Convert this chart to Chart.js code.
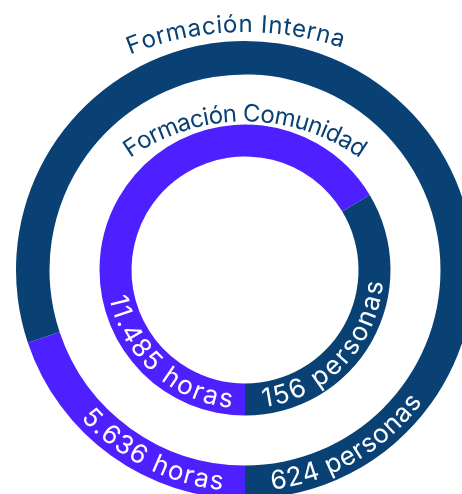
<!DOCTYPE html>
<html><head><meta charset="utf-8">
<script src="https://cdn.jsdelivr.net/npm/chart.js@4.4.1/dist/chart.umd.min.js"></script>
<style>
html,body{margin:0;padding:0;background:#fff;overflow:hidden;width:462px;height:494px;position:relative}
#c{position:absolute;left:-25px;top:-10px}
</style></head>
<body><canvas id="c" width="540" height="560"></canvas>
<script>
// ---- data ----
const ringTitles = ['Formación Interna', 'Formación Comunidad'];
const segmentNames = ['Horas', 'Personas'];
const outerValues = [71.5, 288.5];
const innerValues = [239, 121];
const outerLabels = ['5.636 horas', '624 personas'];
const innerLabels = ['11.485 horas', '156 personas'];
const segmentColors = ['#4F20FF', '#0A4174'];
const titleColor = '#0A4174';

const FONT = 'Inter, "Noto Sans", sans-serif';

function widths(ctx, text){ return Array.from(text).map(ch => ctx.measureText(ch).width); }

// text along an arc, reading clockwise, tops pointing outward
function drawTopArcText(ctx, text, cx, cy, r, centerAngle, spanRad){
  const chars = Array.from(text);
  const w = widths(ctx, text);
  const sum = w.reduce((a,b)=>a+b,0);
  const sp = (spanRad*r - sum)/(chars.length-1);
  const total = sum + sp*(chars.length-1);
  let a = centerAngle - total/r/2;
  chars.forEach((ch,i)=>{
    const mid = a + w[i]/2/r;
    ctx.save();
    ctx.translate(cx + r*Math.cos(mid), cy + r*Math.sin(mid));
    ctx.rotate(mid + Math.PI/2);
    ctx.fillText(ch, 0, 0);
    ctx.restore();
    a += (w[i]+sp)/r;
  });
}
// text along an arc at the bottom, reading counter-clockwise, tops pointing inward
function drawBottomArcText(ctx, text, cx, cy, r, anchorAngle, spanRad, alignEnd){
  const chars = Array.from(text);
  const w = widths(ctx, text);
  const sum = w.reduce((a,b)=>a+b,0);
  const sp = (spanRad*r - sum)/(chars.length-1);
  const total = (sum + sp*(chars.length-1))/r;
  let a = alignEnd ? anchorAngle + total : anchorAngle;
  chars.forEach((ch,i)=>{
    const mid = a - w[i]/2/r;
    ctx.save();
    ctx.translate(cx + r*Math.cos(mid), cy + r*Math.sin(mid));
    ctx.rotate(mid - Math.PI/2);
    ctx.fillText(ch, 0, 0);
    ctx.restore();
    a -= (w[i]+sp)/r;
  });
}

const deg = Math.PI/180;
const arcTextPlugin = {
  id: 'arcText',
  afterDatasetsDraw(chart){
    const ctx = chart.ctx;
    ctx.save();
    ctx.textAlign = 'center';
    ctx.textBaseline = 'alphabetic';
    const rings = [
      {ds:0, title:ringTitles[0], labels:outerLabels, gap:9, curve:1.33, tOff:-1.8*deg, chordHalf:106,
       spans:[42.1*deg, 46.3*deg], pads:[5.9*deg, 7*deg]},
      {ds:2, title:ringTitles[1], labels:innerLabels, gap:3, curve:1.37, tOff:0, chordHalf:115,
       spans:[73*deg, 77.3*deg], pads:[5.6*deg, 7.7*deg]}
    ];
    rings.forEach(rg=>{
      const meta = chart.getDatasetMeta(rg.ds);
      const a0 = meta.data[0].getProps(['x','y','startAngle','endAngle','innerRadius','outerRadius'], true);
      const a1 = meta.data[1].getProps(['x','y','startAngle','endAngle','innerRadius','outerRadius'], true);
      // title
      ctx.fillStyle = titleColor;
      ctx.font = '400 24px ' + FONT;
      const topY = a0.y - a0.outerRadius - rg.gap;
      const Rt = a0.outerRadius * rg.curve;
      const tSpan = 2*Math.asin(rg.chordHalf/Rt);
      drawTopArcText(ctx, rg.title, a0.x, topY + Rt, Rt, -Math.PI/2 + rg.tOff, tSpan);
      // values
      ctx.fillStyle = '#ffffff';
      ctx.font = '400 26px ' + FONT;
      const rb = (a0.innerRadius + a0.outerRadius)/2 + 9;
      drawBottomArcText(ctx, rg.labels[0], a0.x, a0.y, rb, a0.startAngle + rg.pads[0], rg.spans[0], true);
      drawBottomArcText(ctx, rg.labels[1], a1.x, a1.y, rb, a1.endAngle - rg.pads[1], rg.spans[1], false);
    });
    ctx.restore();
  }
};

new Chart(document.getElementById('c'), {
  type: 'doughnut',
  data: {
    labels: segmentNames,
    datasets: [
      {label: ringTitles[0], data: outerValues, backgroundColor: segmentColors, weight: 33.5},
      {label: 'gap', data: [1], backgroundColor: ['rgba(0,0,0,0)'], weight: 50},
      {label: ringTitles[1], data: innerValues, backgroundColor: segmentColors, weight: 32}
    ]
  },
  options: {
    responsive: false,
    animation: false,
    rotation: 180,
    cutout: 113.5,
    borderWidth: 0,
    hoverOffset: 0,
    hoverBorderWidth: 0,
    layout: {padding: {left: 41, right: 41, top: 51, bottom: 51}},
    plugins: {legend: {display: false}, tooltip: {enabled: false}},
    events: []
  },
  plugins: [arcTextPlugin]
});
</script>
</body></html>
